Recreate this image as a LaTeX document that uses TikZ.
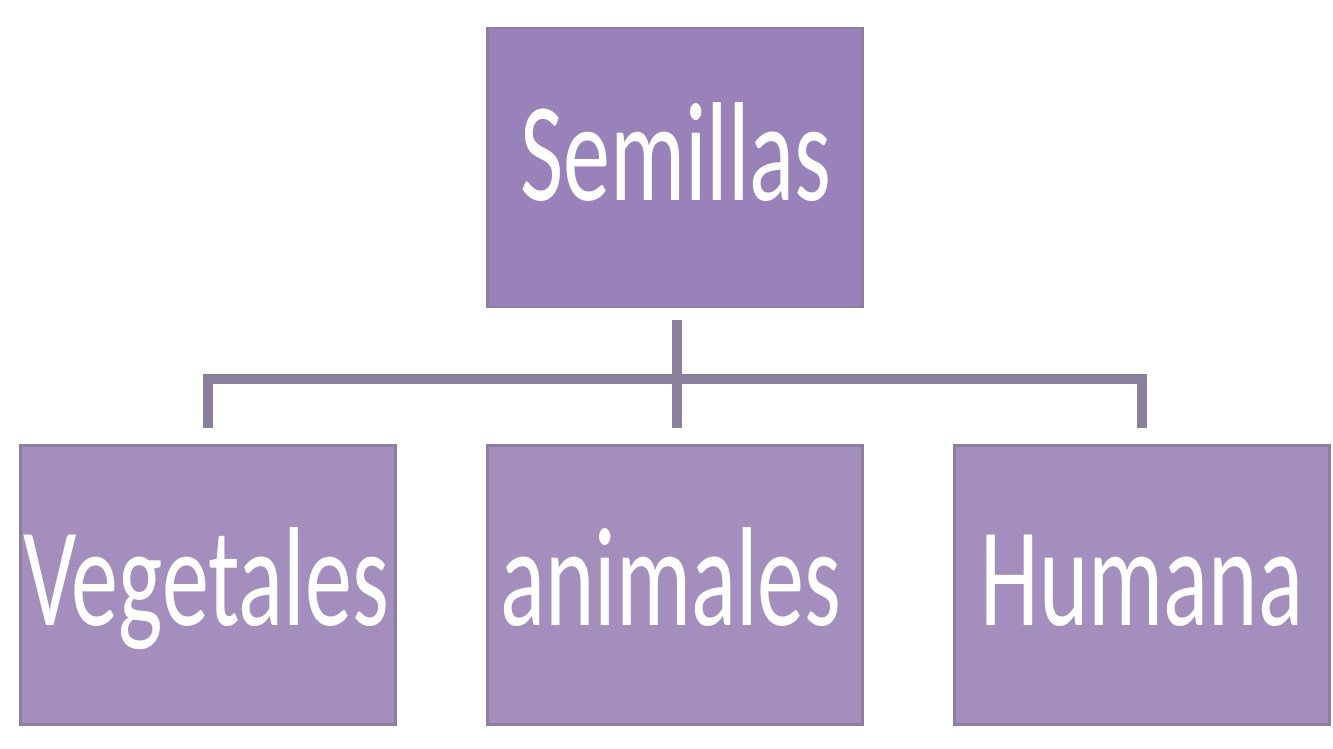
\documentclass[tikz,border=0pt]{standalone}
\usepackage{fontspec}
\newfontfamily\calfont{Carlito}
\definecolor{topfill}{RGB}{152,130,185}
\definecolor{botfill}{RGB}{164,142,190}
\definecolor{edgecol}{RGB}{140,126,160}
\definecolor{linecol}{RGB}{138,128,155}
\tikzset{
  box/.style={draw=edgecol, line width=2.5pt, minimum width=375pt, minimum height=279pt, inner sep=0pt, outer sep=0pt},
  lbl/.style={anchor=base, text=white, inner sep=0pt, font=\calfont\fontsize{94}{94}\selectfont},
  conn/.style={draw=linecol, line width=10pt}
}
\begin{document}
\begin{tikzpicture}[x=1pt,y=-1pt]
\useasboundingbox (0,0) rectangle (1333,749);
\node[box, fill=topfill] (top) at (675,167.5) {};
\node[box, fill=botfill] (veg) at (208,585) {};
\node[box, fill=botfill] (ani) at (675,585) {};
\node[box, fill=botfill] (hum) at (1142,585) {};
\node[lbl] (tSem) at (676,200) {\scalebox{1}[1.5]{Semillas}};
\node[lbl] (tVeg) at (206,625) {\scalebox{1}[1.5]{Vegetales}};
\node[lbl] (tAni) at (671,625) {\scalebox{1}[1.5]{animales}};
\node[lbl] (tHum) at (1142,625) {\scalebox{1}[1.5]{Humana}};
\coordinate (bar) at (675,379);
\draw[conn, shorten <=13pt, shorten >=18pt] ([xshift=2pt]top.south) -- ([xshift=2pt]ani.north);
\draw[conn, shorten <=18pt, shorten >=18pt] (veg.north) -- (veg.north |- bar) -- (hum.north |- bar) -- (hum.north);
\end{tikzpicture}
\end{document}
